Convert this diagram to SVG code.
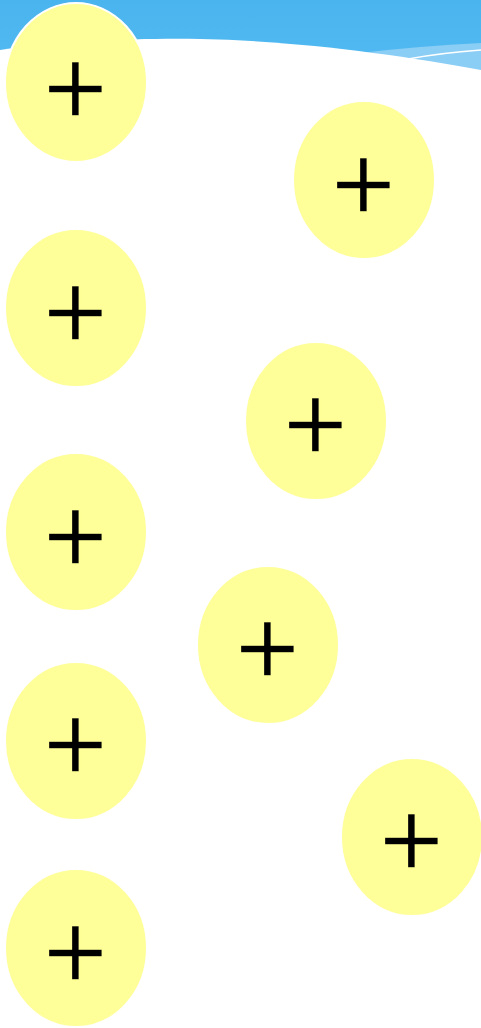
<svg xmlns="http://www.w3.org/2000/svg" width="481" height="1028" viewBox="0 0 481 1028">
<defs>
<linearGradient id="sky" x1="0" y1="0" x2="0" y2="1">
<stop offset="0" stop-color="#4ab4ee"/>
<stop offset="1" stop-color="#55bcf3"/>
</linearGradient>
<style>
.node ellipse{fill:#ffff99;stroke:#ffffff;stroke-width:2}
.node text{font-family:"Liberation Sans",Arial,sans-serif;font-size:111px;fill:#000;stroke:#ffff99;stroke-width:1.4;text-anchor:middle}
</style>
</defs>
<g id="background">
<rect x="0" y="0" width="481" height="90" fill="url(#sky)"/>
<path d="M360,53 Q420,46 481,43 L481,90 L360,90 Z" fill="#8acdf5"/>
<path d="M0,50 C60,41 140,38 200,39 C300,41 400,55 481,70 L481,1028 L0,1028 Z" fill="#ffffff"/>
<path d="M408,59 Q440,53 481,50" fill="none" stroke="#ffffff" stroke-width="1.5"/>
</g>
<g id="connectors"></g>
<g id="n1" class="node"><ellipse cx="76" cy="82.5" rx="71" ry="79.5"/><text x="75.3" y="125.7">+</text></g>
<g id="n2" class="node"><ellipse cx="364" cy="180" rx="71" ry="79"/><text x="363.5" y="221.5">+</text></g>
<g id="n3" class="node"><ellipse cx="76" cy="308" rx="71" ry="79"/><text x="75.3" y="349.8">+</text></g>
<g id="n4" class="node"><ellipse cx="316" cy="421" rx="71" ry="79"/><text x="315.5" y="461.5">+</text></g>
<g id="n5" class="node"><ellipse cx="76" cy="532" rx="71" ry="79"/><text x="75.3" y="573.8">+</text></g>
<g id="n6" class="node"><ellipse cx="268" cy="645" rx="71" ry="79"/><text x="267.5" y="685.7">+</text></g>
<g id="n7" class="node"><ellipse cx="76" cy="741" rx="71" ry="79"/><text x="75.3" y="781.8">+</text></g>
<g id="n8" class="node"><ellipse cx="412" cy="837" rx="71" ry="79"/><text x="411.3" y="878.2">+</text></g>
<g id="n9" class="node"><ellipse cx="76" cy="948" rx="71" ry="79"/><text x="75.3" y="990.2">+</text></g>
</svg>
